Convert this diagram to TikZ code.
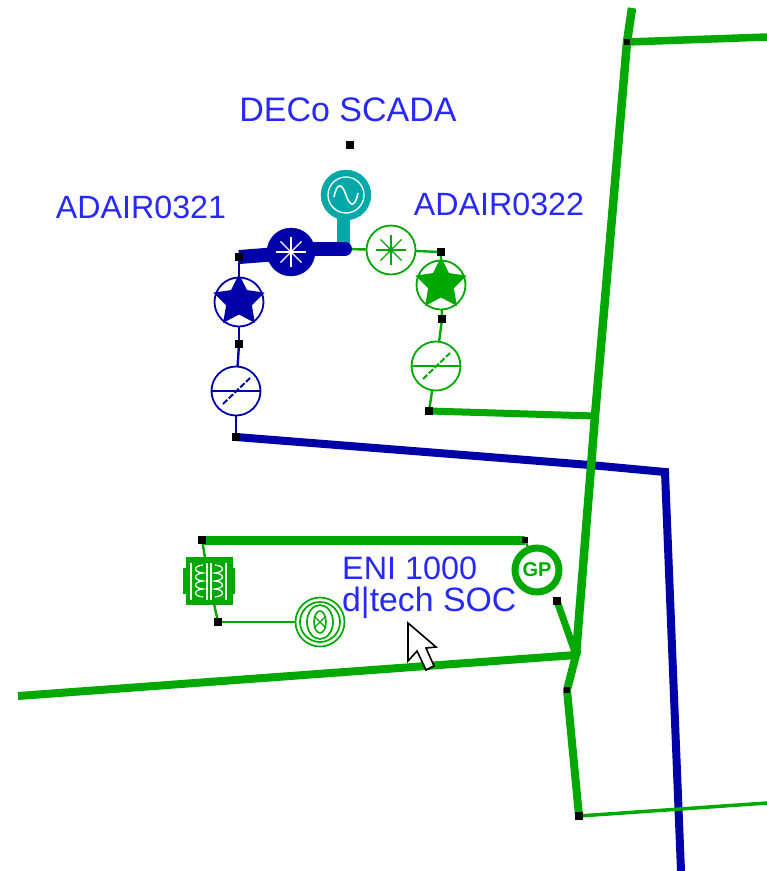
\documentclass[tikz,border=0pt]{standalone}
\usepackage{fontspec}
\setmainfont{Liberation Sans}
\usetikzlibrary{shapes.geometric,backgrounds}
\definecolor{gr}{RGB}{0,168,0}
\definecolor{bl}{RGB}{0,0,168}
\definecolor{tl}{RGB}{0,168,168}
\definecolor{tx}{RGB}{40,40,250}
\tikzset{
 sq/.style={draw=none,fill=black,minimum size=8pt,inner sep=0pt,outer sep=0pt},
 sqs/.style={draw=none,fill=black,minimum size=6pt,inner sep=0pt,outer sep=0pt},
 lbl/.style={text=tx,inner sep=0pt,align=left},
 ring/.style={circle,draw=#1,line width=1.8pt,minimum size=49pt,inner sep=0pt,outer sep=0pt},
 disc/.style={circle,fill=#1,draw=#1,minimum size=50pt,inner sep=0pt,outer sep=0pt},
 stardot/.style={star,star points=5,star point ratio=2.0,fill=#1,draw=none,minimum size=54pt,inner sep=0pt,outer sep=0pt},
 thick line/.style={line width=8.5pt},
 mid line/.style={line width=7pt},
 thin line/.style={line width=2.4pt},
}
\begin{document}
\begin{tikzpicture}[x=1pt,y=-1pt]
\useasboundingbox (0,0) rectangle (767,871);
% labels
\node[lbl,font=\fontsize{34}{34}\selectfont,anchor=center] (deco) at (348,110) {DECo SCADA};
\node[lbl,font=\fontsize{32.2}{32}\selectfont,anchor=center] (a321) at (141,207) {ADAIR0321};
\node[lbl,font=\fontsize{32.2}{32}\selectfont,anchor=center] (a322) at (499,204) {ADAIR0322};
\node[lbl,font=\fontsize{32.4}{32}\selectfont,anchor=west] (eni) at (342,568) {ENI 1000};
\node[lbl,font=\fontsize{33.8}{34}\selectfont,anchor=west] (soc) at (342,603) {d|tech SOC};
% junction squares
\node[sq] (sdeco) at (350,145) {};
\node[sq] (sl1) at (239,257) {};
\node[sq] (sl2) at (239,344) {};
\node[sq] (sl3) at (236,437) {};
\node[sq] (sr1) at (441,252) {};
\node[sq] (sr2) at (442,319) {};
\node[sq] (sr3) at (429,411) {};
\node[sq] (st1) at (202,540) {};
\node[sq] (st2) at (218,622) {};
\node[sqs] (sg1) at (525,540) {};
\node[sq] (sg2) at (557,601) {};
\node[sqs] (s1) at (627,42) {};
\node[sqs] (s2) at (567,690) {};
\node[sq] (s3) at (579,816) {};
\coordinate (bus) at (345,249);
\coordinate (stem) at (343,195);
\coordinate (bd1) at (291,249);
\coordinate (bd2) at (291,253);
% generator
\node[disc=tl] (gen) at (346,195) {};
\draw[white,line width=1.3pt] (gen.center) circle (18);
\draw[white,line width=1.6pt] (334,197) .. controls (337,182) and (342,183) .. (346,195) .. controls (350,207) and (355,208) .. (358,193);
% blue disc
\node[disc=bl,minimum size=48pt] (bd) at (291,252) {};
\foreach \a in {0,45,...,135}
  \draw[white,line width=1.3pt] (291,252) ++(\a:15) -- ++(\a+180:30);
% green ring
\node[ring=gr] (gd) at (391,250) {};
\foreach \a in {0,45,...,135}
  \draw[gr,line width=1.3pt] (391,250) ++(\a:15) -- ++(\a+180:30);
\fill[gr] (391,250) circle (3);
% star rings
\node[ring=bl] (ls) at (239,302) {};
\node[stardot=bl] at (239,301) {};
\node[ring=gr] (rs) at (441,285) {};
\node[stardot=gr] at (441,284) {};
% meter rings
\node[ring=bl] (lm) at (236,391) {};
\draw[bl,line width=1.7pt] (lm.west) -- (lm.east);
\draw[bl,line width=2pt,dash pattern=on 6pt off 2pt] (223,404) -- (250,378);
\node[ring=gr] (rm) at (436,366) {};
\draw[gr,line width=1.7pt] (rm.west) -- (rm.east);
\draw[gr,line width=2pt,dash pattern=on 6pt off 2pt] (423,379) -- (450,353);
% transformer
\node[rectangle,fill=gr,draw=gr,minimum width=46pt,minimum height=47pt,inner sep=0pt,outer sep=0pt] (tr) at (209,581) {};
\fill[gr] (183,568) rectangle (188,594);
\fill[gr] (230,568) rectangle (235,594);
\draw[white,line width=1.3pt] (207,563) -- (207,600) (211,563) -- (211,600);
\draw[white,line width=1.3pt] (191,563) -- (191,600) (226,563) -- (226,600);
\draw[white,line width=1.3pt] (203,565) .. controls (193,566) and (193,572) .. (203,573) .. controls (193,574) and (193,580) .. (203,581) .. controls (193,582) and (193,588) .. (203,589) .. controls (193,590) and (193,596) .. (203,597);
\draw[white,line width=1.3pt] (215,565) .. controls (225,566) and (225,572) .. (215,573) .. controls (225,574) and (225,580) .. (215,581) .. controls (225,582) and (225,588) .. (215,589) .. controls (225,590) and (225,596) .. (215,597);
% double ring
\node[ring=gr,line width=1.7pt] (cap) at (320,622) {};
\draw[gr,line width=1.7pt] (cap.center) circle (20);
\draw[gr,line width=1.7pt] (320,622) ellipse (13 and 17);
\draw[gr,line width=1.5pt] (320,622) ellipse (6 and 11);
\draw[gr,line width=1.2pt] (314,616) -- (326,628) (326,616) -- (314,628);
% GP
\node[circle,draw=gr,line width=7pt,minimum size=44pt,inner sep=0pt,outer sep=0pt,text=gr,font=\fontsize{20}{20}\selectfont\bfseries] (gp) at (537,570) {GP};
% cursor
\coordinate (c1) at (408,623);
\coordinate (c2) at (408,661);
\coordinate (c3) at (417,651);
\coordinate (c4) at (426,670);
\coordinate (c5) at (434,666);
\coordinate (c6) at (426,648);
\coordinate (c7) at (436,647);
% free ends and bends
\coordinate (gtop) at (632,8);
\coordinate (ge) at (767,37);
\coordinate (gj1) at (595,416);
\coordinate (gj2) at (576,655);
\coordinate (gw) at (18,696);
\coordinate (be1) at (665,472);
\coordinate (be2) at (590,465);
\coordinate (be3) at (681,871);
\coordinate (ge2) at (767,803);
\begin{scope}[on background layer]
 \draw[bl,line width=8pt,line join=miter] (sl3.center) -- (be2) -- (be1) -- (be3);
 \draw[gr,thick line] (gtop) -- (s1.center) -- (gj1) -- (gj2);
 \draw[gr,line width=7.5pt] (s1.center) -- (ge);
 \draw[gr,line width=7pt] (sr3.center) -- (gj1);
 \draw[gr,line width=8pt] (gw) -- (gj2) -- (s2.center) -- (s3.center);
 \draw[gr,line width=3.5pt] (s3.center) -- (ge2);
 \draw[gr,mid line] (sg2.center) -- (gj2);
 \draw[gr,line width=9pt] (st1.center) -- (sg1.center);
 \draw[gr,thin line] (sg1) -- (gp);
 \draw[gr,thin line] (st1) -- (tr);
 \draw[gr,thin line] (tr) -- (st2);
 \draw[gr,thin line] (st2) -- (cap);
 \draw[gr,thin line] (bus) -- (gd);
 \draw[tl,line width=13pt] (stem) -- (stem |- bus);
 \draw[bl,line width=14pt,line cap=round] (bus) -- (bd1);
 \draw[bl,line width=14pt] (bd2) -- (sl1.center);
 \draw[gr,thin line] (gd) -- (sr1);
 \draw[bl,thin line] (sl1) -- (ls);
 \draw[bl,thin line] (ls) -- (sl2);
 \draw[bl,thin line] (sl2) -- (lm);
 \draw[bl,thin line] (lm) -- (sl3);
 \draw[gr,thin line] (sr1) -- (rs);
 \draw[gr,thin line] (rs) -- (sr2);
 \draw[gr,thin line] (sr2) -- (rm);
 \draw[gr,thin line] (rm) -- (sr3);
\end{scope}
\filldraw[fill=white,draw=black,line width=1.6pt,line join=miter] (c1) -- (c2) -- (c3) -- (c4) -- (c5) -- (c6) -- (c7) -- cycle;
\end{tikzpicture}
\end{document}
